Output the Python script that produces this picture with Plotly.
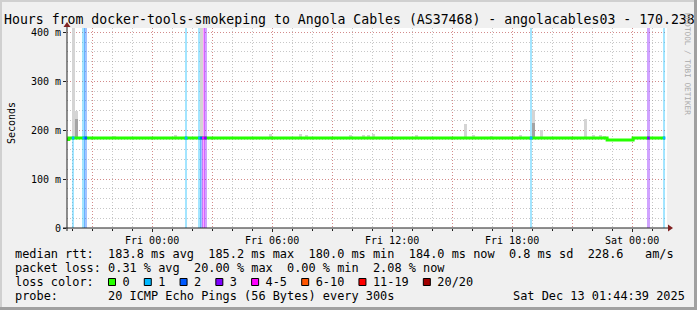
import pandas as pd
import plotly.graph_objects as go

# ---------------- data ----------------
title_text = "Hours from docker-tools-smokeping to Angola Cables (AS37468) - angolacables03 - 170.238"
x_start = "2025-12-11 19:44:39"
x_end = "2025-12-13 01:44:39"

tick_times = ["2025-12-11 21:00", "2025-12-12 00:00", "2025-12-12 03:00", "2025-12-12 06:00",
              "2025-12-12 09:00", "2025-12-12 12:00", "2025-12-12 15:00", "2025-12-12 18:00",
              "2025-12-12 21:00", "2025-12-13 00:00"]
tick_labels = ["", "Fri 00:00", "", "Fri 06:00", "", "Fri 12:00", "", "Fri 18:00", "", "Sat 00:00"]

y_tick_vals = [0, 100, 200, 300, 400]
y_tick_text = ["0", "100 m", "200 m", "300 m", "400 m"]

# median rtt (ms), step function
median_times = ["2025-12-11 19:44:39", "2025-12-11 19:50:00", "2025-12-12 22:45:00",
                "2025-12-13 00:03:00", "2025-12-13 01:38:39"]
median_values = [181, 184, 180, 184, 184]

# loss events (lost pings out of 20)
loss_times = ["2025-12-11 20:03", "2025-12-11 20:35", "2025-12-11 20:41", "2025-12-12 01:42",
              "2025-12-12 02:22", "2025-12-12 02:28", "2025-12-12 02:34", "2025-12-12 02:40",
              "2025-12-12 18:57", "2025-12-13 00:49", "2025-12-13 01:36"]
loss_counts = [1, 1, 2, 1, 1, 2, 4, 3, 1, 3, 1]

# smoke (ping spread): max rtt and darker inner quantile (ms)
smoke_times = ["2025-12-11 20:05", "2025-12-11 20:12", "2025-12-11 22:06", "2025-12-12 01:09",
               "2025-12-12 02:28", "2025-12-12 05:54", "2025-12-12 07:24", "2025-12-12 07:43",
               "2025-12-12 09:54", "2025-12-12 10:34", "2025-12-12 10:49", "2025-12-12 11:04",
               "2025-12-12 13:13", "2025-12-12 15:39", "2025-12-12 16:04", "2025-12-12 16:58",
               "2025-12-12 18:24", "2025-12-12 19:04", "2025-12-12 19:27", "2025-12-12 21:39",
               "2025-12-12 22:04", "2025-12-12 22:24", "2025-12-12 22:37"]
smoke_max = [420, 240, 189, 190, 420, 192, 193, 190, 190, 190, 190, 192, 190, 213, 191, 188,
             191, 242, 200, 223, 191, 190, 188]
smoke_dark = [184, 223, 184, 184, 184, 184, 184, 184, 184, 184, 184, 184, 184, 184, 184, 184,
              184, 215, 184, 184, 184, 184, 184]

loss_legend_labels = ["0", "1", "2", "3", "4-5", "6-10", "11-19", "20/20"]
loss_legend_colors = ["#26ff00", "#00b8ff", "#0059ff", "#7e00ff", "#ff00ff", "#ff5500", "#ff0000", "#a10000"]

stat_lines = [
    "median rtt:  183.8 ms avg  185.2 ms max  180.0 ms min  184.0 ms now  0.8 ms sd  228.6   am/s",
    "packet loss: 0.31 % avg  20.00 % max  0.00 % min  2.08 % now",
]
probe_text = "probe:       20 ICMP Echo Pings (56 Bytes) every 300s"
stamp_text = "Sat Dec 13 01:44:39 2025"
watermark = "RRDTOOL / TOBI OETIKER"

# ---------------- helpers ----------------
W, H = 697, 310
L, R, T, B = 67, 30, 28, 82
PW, PH = W - L - R, H - T - B
Y_TOP = 409
MONO = "DejaVu Sans Mono"


def fx(px):
    return (px - L) / PW


def fy(py):
    return (H - B - py) / PH


def loss_idx(n):
    if n <= 3:
        return n
    if n <= 5:
        return 4
    if n <= 10:
        return 5
    if n <= 19:
        return 6
    return 7


def hex_rgba(h, a):
    h = h.lstrip("#")
    return "rgba(%d,%d,%d,%s)" % (int(h[0:2], 16), int(h[2:4], 16), int(h[4:6], 16), a)


m_t = pd.to_datetime(median_times)


def median_at(t):
    t = pd.Timestamp(t)
    val = median_values[0]
    for tt, v in zip(m_t, median_values):
        if tt <= t:
            val = v
    return val


STEP = pd.Timedelta(minutes=8)
step_ms = STEP.total_seconds() * 1000
SMOKE_W = pd.Timedelta(minutes=9).total_seconds() * 1000

fig = go.Figure()

# loss background bars
fig.add_trace(go.Bar(
    x=loss_times, y=[Y_TOP + 50] * len(loss_times), base=0,
    width=[step_ms] * len(loss_times),
    marker=dict(color=[hex_rgba(loss_legend_colors[loss_idx(n)], 0.36) for n in loss_counts],
                line=dict(width=0)),
    hoverinfo="skip"))

# smoke
smoke_base = [median_at(t) for t in smoke_times]
fig.add_trace(go.Bar(
    x=smoke_times, y=[m - b for m, b in zip(smoke_max, smoke_base)], base=smoke_base,
    width=[SMOKE_W] * len(smoke_times),
    marker=dict(color="#d4d4d4", line=dict(width=0)), hoverinfo="skip"))
fig.add_trace(go.Bar(
    x=smoke_times, y=[max(d - b, 0) for d, b in zip(smoke_dark, smoke_base)], base=smoke_base,
    width=[SMOKE_W] * len(smoke_times),
    marker=dict(color="#a4a4a4", line=dict(width=0)), hoverinfo="skip"))

# median line
fig.add_trace(go.Scatter(x=median_times, y=median_values, mode="lines",
                         line=dict(color="#26ff00", width=3, shape="hv"), hoverinfo="skip"))

# loss coloured median segments
groups = {}
for t, n in zip(loss_times, loss_counts):
    tt = pd.Timestamp(t)
    v = median_at(tt)
    g = groups.setdefault(loss_idx(n), ([], []))
    g[0].extend([tt - STEP / 2, tt + STEP / 2, None])
    g[1].extend([v, v, None])
for k, (xs, ys) in groups.items():
    fig.add_trace(go.Scatter(x=xs, y=ys, mode="lines",
                             line=dict(color=loss_legend_colors[k], width=3), hoverinfo="skip"))

grid_major = "rgba(224,80,80,0.5)"
grid_minor = "rgba(144,144,144,0.5)"
GDASH = "1px,2px"
hour_ticks = pd.date_range("2025-12-11 20:00", "2025-12-13 01:00", freq="1h")

fig.update_xaxes(
    type="date", range=[x_start, x_end],
    tickmode="array", tickvals=tick_times, ticktext=tick_labels,
    showgrid=True, gridcolor=grid_major, gridwidth=1, griddash=GDASH,
    ticks="outside", ticklen=3, tickcolor="#202020",
    tickfont=dict(family=MONO, size=10, color="black"),
    minor=dict(tickmode="array", tickvals=list(hour_ticks), showgrid=True, gridcolor=grid_minor,
               gridwidth=1, griddash=GDASH, ticks="outside", ticklen=2, tickcolor="#202020"),
    zeroline=False, showline=False, fixedrange=True)
fig.update_yaxes(
    range=[0, Y_TOP], tickmode="array", tickvals=y_tick_vals, ticktext=y_tick_text,
    showgrid=True, gridcolor=grid_major, gridwidth=1, griddash=GDASH,
    ticks="outside", ticklen=3, tickcolor="#202020",
    tickfont=dict(family=MONO, size=10, color="black"),
    minor=dict(tickmode="array", tickvals=list(range(20, Y_TOP, 20)), showgrid=True,
               gridcolor=grid_minor, gridwidth=1, griddash=GDASH),
    zeroline=False, showline=False, fixedrange=True)

shapes = []
# frame shading
shapes += [
    dict(type="rect", xref="paper", yref="paper", x0=fx(0), x1=fx(W), y0=fy(0), y1=fy(2),
         fillcolor="#d0d0d0", line=dict(width=0), layer="above"),
    dict(type="rect", xref="paper", yref="paper", x0=fx(0), x1=fx(2), y0=fy(0), y1=fy(H),
         fillcolor="#d0d0d0", line=dict(width=0), layer="above"),
    dict(type="rect", xref="paper", yref="paper", x0=fx(0), x1=fx(W), y0=fy(H - 3), y1=fy(H),
         fillcolor="#a0a0a0", line=dict(width=0), layer="above"),
    dict(type="rect", xref="paper", yref="paper", x0=fx(W - 3), x1=fx(W), y0=fy(0), y1=fy(H),
         fillcolor="#a0a0a0", line=dict(width=0), layer="above"),
]
# axes
shapes += [
    dict(type="line", xref="paper", yref="paper", x0=fx(63), x1=fx(669), y0=0, y1=0,
         line=dict(color="#202020", width=1), layer="above"),
    dict(type="line", xref="paper", yref="paper", x0=0, x1=0, y0=fy(231), y1=fy(26),
         line=dict(color="#202020", width=1), layer="above"),
    dict(type="path", xref="paper", yref="paper", xsizemode="pixel", ysizemode="pixel",
         xanchor=fx(668), yanchor=0, path="M0,3.5 L0,-3.5 L5,0 Z",
         fillcolor="#802020", line=dict(width=0), layer="above"),
    dict(type="path", xref="paper", yref="paper", xsizemode="pixel", ysizemode="pixel",
         xanchor=0, yanchor=fy(27), path="M-3.5,0 L3.5,0 L0,5 Z",
         fillcolor="#802020", line=dict(width=0), layer="above"),
]

CW = 7.155
TX = 15
annotations = []


def text_ann(x, y, text, size, color="black", angle=0, xanchor="left"):
    return dict(xref="paper", yref="paper", x=fx(x), y=fy(y), text=text, showarrow=False,
                xanchor=xanchor, yanchor="middle", textangle=angle, borderpad=0, borderwidth=0,
                font=dict(family=MONO, size=size, color=color))


annotations.append(text_ann(4, 19, title_text, 13.2))
annotations.append(text_ann(11, 123, "Seconds", 10, angle=-90, xanchor="center"))
annotations.append(text_ann(688, 64, watermark, 7.7, color="#aaaaaa", angle=90, xanchor="center"))

for i, line in enumerate(stat_lines):
    annotations.append(text_ann(TX, [254.3, 268][i], line, 11.9))

legend_text = "loss color:  " + "".join("  " + lab + "  " for lab in loss_legend_labels)
annotations.append(text_ann(TX, 282, legend_text, 11.9))
pos = 13
for lab, col in zip(loss_legend_labels, loss_legend_colors):
    x0 = TX + pos * CW + 0.5
    shapes.append(dict(type="rect", xref="paper", yref="paper", x0=fx(x0), x1=fx(x0 + 7),
                       y0=fy(285.5), y1=fy(278.5), fillcolor=col,
                       line=dict(color="black", width=1), layer="above"))
    pos += 4 + len(lab)

annotations.append(text_ann(TX, 295.7, probe_text, 11.9))
annotations.append(text_ann(513, 295.7, stamp_text, 11.9))

fig.update_layout(
    width=W, height=H, margin=dict(l=L, r=R, t=T, b=B, pad=0),
    paper_bgcolor="#f0f0f0", plot_bgcolor="white",
    showlegend=False, barmode="overlay", bargap=0,
    shapes=shapes, annotations=annotations,
)

fig.write_html("out.html")
